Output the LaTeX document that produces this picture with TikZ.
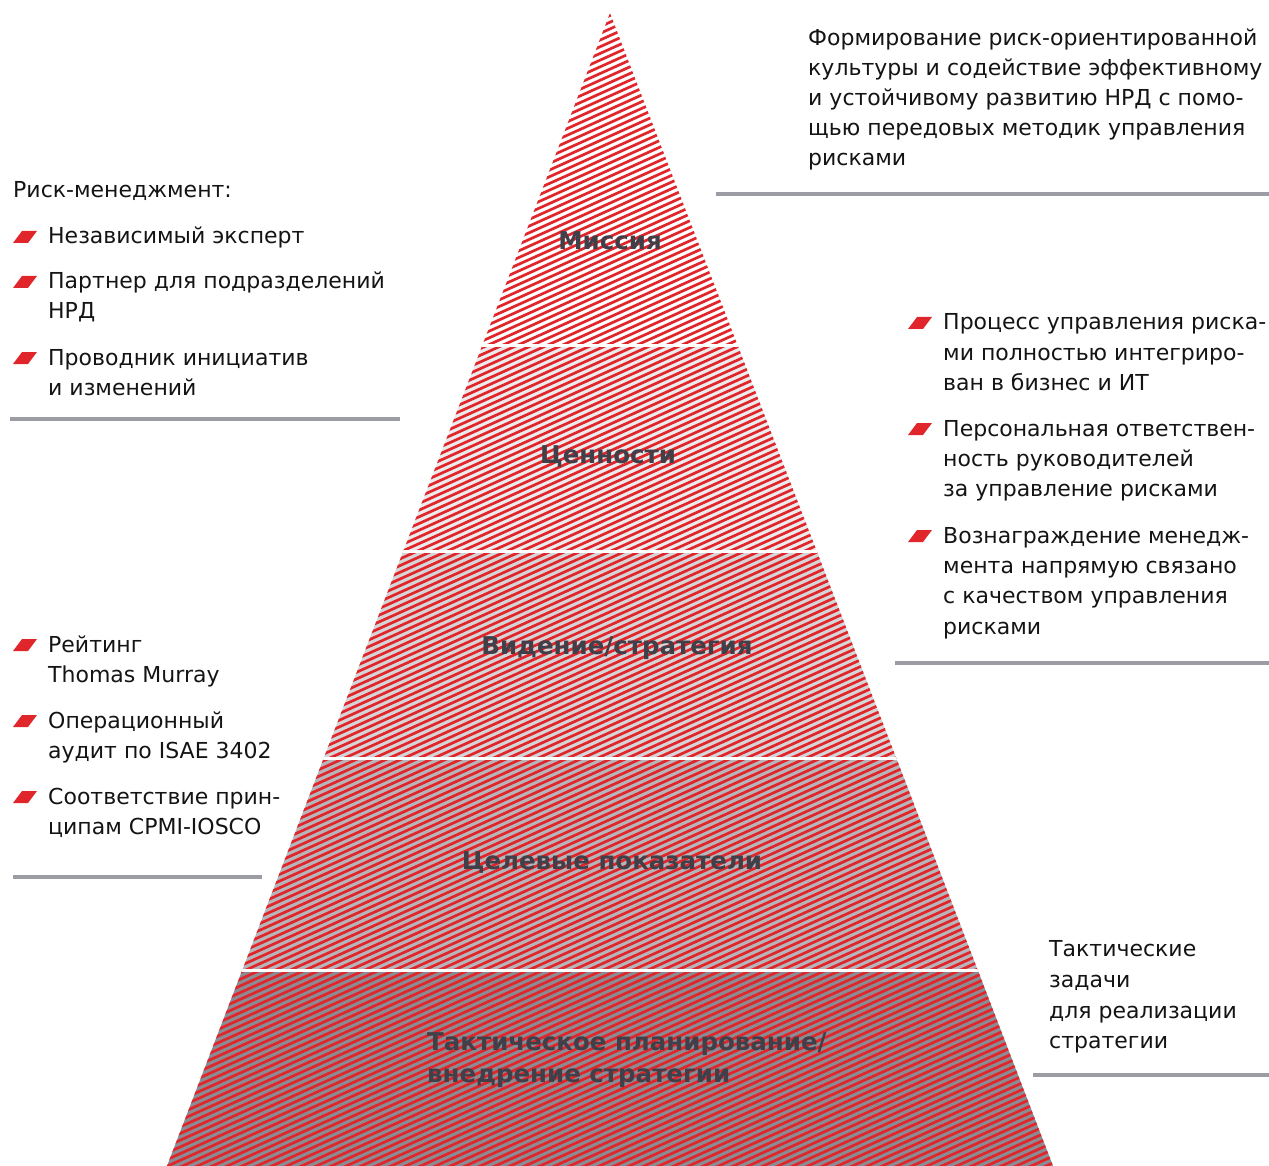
\documentclass[tikz,border=0pt]{standalone}
\usepackage{fontspec}
\setmainfont{DejaVu Sans}
\begin{document}
\begin{tikzpicture}[x=1pt,y=-1pt,
  txt/.style={inner sep=0pt, anchor=base west, text=txtblack, font=\fontsize{22}{30}\selectfont},
  lbl/.style={inner sep=0pt, anchor=base, text=lblgray, font=\bfseries\fontsize{24.5}{32}\selectfont},
  rule/.style={draw=rulegray, line width=4pt},
  hatch/.style={draw=hatchred, line width=2.7pt},
  sep/.style={draw=white, line width=3pt},
  bulletmark/.style={fill=hatchred}]
\definecolor{txtblack}{HTML}{141414}
\definecolor{lblgray}{HTML}{3F4049}
\definecolor{rulegray}{HTML}{9C9CA4}
\definecolor{hatchred}{HTML}{E0252B}
\definecolor{bandB}{HTML}{EBEBEC}
\definecolor{bandC}{HTML}{D5D5D7}
\definecolor{bandD}{HTML}{B6B6BA}
\definecolor{bandE}{HTML}{8B8B93}
\newcommand{\bulletat}[2]{\fill[bulletmark] (#1,#2-1) -- (#1+15,#2-1) -- (#1+24,#2-13) -- (#1+9,#2-13) -- cycle;}
\useasboundingbox (0,0) rectangle (1269,1166);
% pyramid
\begin{scope}
  \clip (610,13) -- (1053,1166) -- (167,1166) -- cycle;
  \fill[bandB] (0,345) rectangle (1269,551);
  \fill[bandC] (0,551) rectangle (1269,758);
  \fill[bandD] (0,758) rectangle (1269,970);
  \fill[bandE] (0,970) rectangle (1269,1170);
  \foreach \c in {290,296.7,...,1680} \draw[hatch] (100,\c-45) -- (1100,\c-495);
  \foreach \y in {345,551,758,970} \draw[sep] (0,\y) -- (1269,\y);
\end{scope}
% band labels
\node[lbl] (mission) at (610,250) {Миссия};
\node[lbl] (values) at (608,463) {Ценности};
\node[lbl] (vision) at (617,654) {Видение/стратегия};
\node[lbl] (targets) at (612,869) {Целевые показатели};
\node[lbl, anchor=base west] (tact1) at (427,1050) {Тактическое планирование/};
\node[lbl, anchor=base west] (tact2) at (427,1082) {внедрение стратегии};
% top right
\node[txt] (m1) at (808,46) {Формирование риск-ориентированной};
\node[txt] (m2) at (808,76) {культуры и содействие эффективному};
\node[txt] (m3) at (808,106) {и устойчивому развитию НРД с помо-};
\node[txt] (m4) at (808,136) {щью передовых методик управления};
\node[txt] (m5) at (808,166) {рисками};
\draw[rule] (716,194) -- (1269,194);
% left top
\node[txt] (rm) at (13,198) {Риск-менеджмент:};
\bulletat{13}{244}
\node[txt] (a1) at (48,244) {Независимый эксперт};
\bulletat{13}{289}
\node[txt] (a2) at (48,289) {Партнер для подразделений};
\node[txt] (a2b) at (48,319) {НРД};
\bulletat{13}{365}
\node[txt] (a3) at (48,365) {Проводник инициатив};
\node[txt] (a3b) at (48,395) {и изменений};
\draw[rule] (10,419) -- (400,419);
% right middle
\bulletat{908}{330}
\node[txt] (b1) at (943,330) {Процесс управления риска-};
\node[txt] (b1b) at (943,360) {ми полностью интегриро-};
\node[txt] (b1c) at (943,390) {ван в бизнес и ИТ};
\bulletat{908}{436}
\node[txt] (b2) at (943,436) {Персональная ответствен-};
\node[txt] (b2b) at (943,466) {ность руководителей};
\node[txt] (b2c) at (943,496) {за управление рисками};
\bulletat{908}{543}
\node[txt] (b3) at (943,543) {Вознаграждение менедж-};
\node[txt] (b3b) at (943,573) {мента напрямую связано};
\node[txt] (b3c) at (943,603) {с качеством управления};
\node[txt] (b3d) at (943,634) {рисками};
\draw[rule] (895,663) -- (1269,663);
% left lower
\bulletat{13}{652}
\node[txt] (c1) at (48,652) {Рейтинг};
\node[txt] (c1b) at (48,682) {Thomas Murray};
\bulletat{13}{728}
\node[txt] (c2) at (48,728) {Операционный};
\node[txt] (c2b) at (48,758) {аудит по ISAE 3402};
\bulletat{13}{804}
\node[txt] (c3) at (48,804) {Соответствие прин-};
\node[txt] (c3b) at (48,834) {ципам CPMI-IOSCO};
\draw[rule] (13,877) -- (262,877);
% bottom right
\node[txt] (d1) at (1049,956) {Тактические};
\node[txt] (d2) at (1049,987) {задачи};
\node[txt] (d3) at (1049,1018) {для реализации};
\node[txt] (d4) at (1049,1048) {стратегии};
\draw[rule] (1033,1075) -- (1269,1075);
\end{tikzpicture}
\end{document}
